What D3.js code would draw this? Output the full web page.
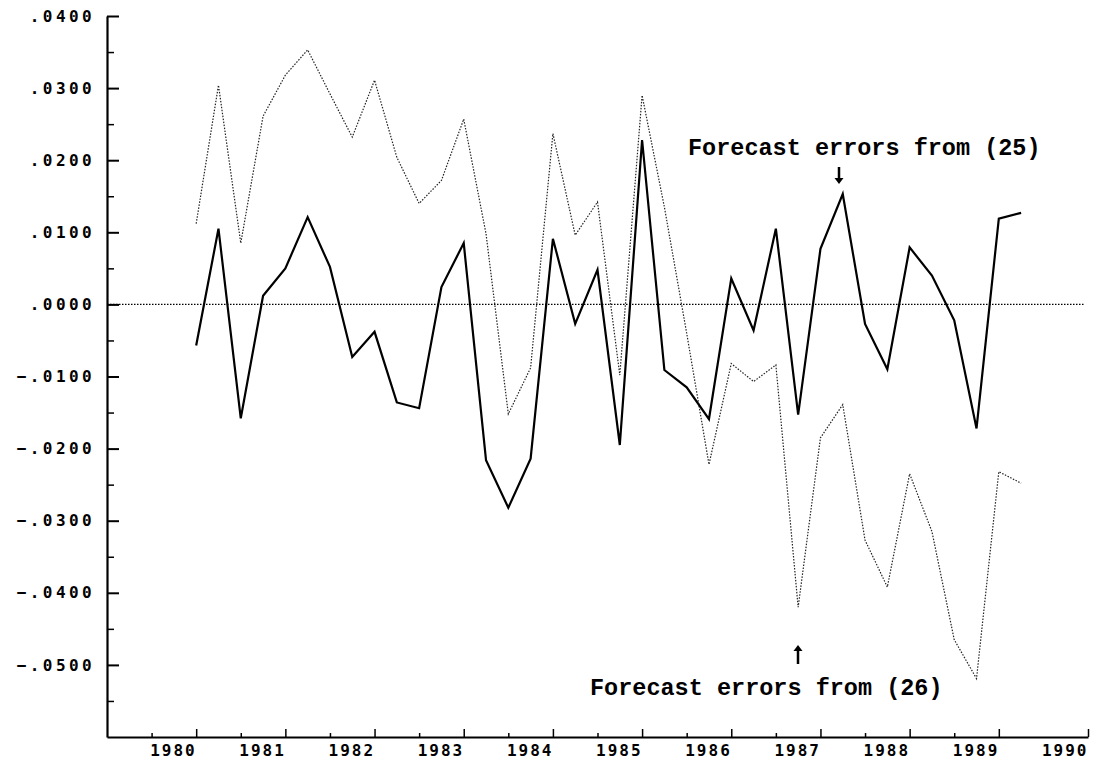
<!DOCTYPE html>
<html>
<head>
<meta charset="utf-8">
<script src="https://cdn.jsdelivr.net/npm/d3@7"></script>
<style>
  body { margin: 0; background: #fff; }
  svg { display: block; }
  .axis text { font-family: "DejaVu Sans Mono", monospace; font-weight: bold; font-size: 16px; fill: #000; }
  .note { font-family: "Liberation Mono", "Courier New", monospace; font-weight: bold; font-size: 23.5px; fill: #000; }
</style>
</head>
<body>
<svg id="svg" width="1097" height="765"></svg>
<script>
/* globals d3 */

// quarterly observations, 1980:1 - 1989:2
var quarters = [
  '1980Q1','1980Q2','1980Q3','1980Q4','1981Q1','1981Q2','1981Q3','1981Q4',
  '1982Q1','1982Q2','1982Q3','1982Q4','1983Q1','1983Q2','1983Q3','1983Q4',
  '1984Q1','1984Q2','1984Q3','1984Q4','1985Q1','1985Q2','1985Q3','1985Q4',
  '1986Q1','1986Q2','1986Q3','1986Q4','1987Q1','1987Q2','1987Q3','1987Q4',
  '1988Q1','1988Q2','1988Q3','1988Q4','1989Q1','1989Q2'
];

// forecast errors from (25) - solid line
var errors25 = [
  -0.0057, 0.0105, -0.0158, 0.0012, 0.0050, 0.0121, 0.0052, -0.0073,
  -0.0038, -0.0136, -0.0144, 0.0024, 0.0085, -0.0216, -0.0282, -0.0214,
  0.0091, -0.0027, 0.0048, -0.0195, 0.0228, -0.0091, -0.0115, -0.0159,
  0.0036, -0.0036, 0.0105, -0.0153, 0.0077, 0.0153, -0.0027, -0.0090,
  0.0079, 0.0040, -0.0022, -0.0172, 0.0119, 0.0127
];

// forecast errors from (26) - dotted line
var errors26 = [
  0.0112, 0.0304, 0.0085, 0.0261, 0.0318, 0.0353, 0.0292, 0.0232,
  0.0311, 0.0204, 0.0140, 0.0172, 0.0257, 0.0098, -0.0152, -0.0088,
  0.0237, 0.0096, 0.0142, -0.0098, 0.0290, 0.0135, -0.0040, -0.0222,
  -0.0082, -0.0107, -0.0084, -0.0420, -0.0185, -0.0139, -0.0327, -0.0392,
  -0.0235, -0.0315, -0.0465, -0.0519, -0.0232, -0.0248
];

var yearTicks = [1980, 1981, 1982, 1983, 1984, 1985, 1986, 1987, 1988, 1989, 1990];
var yMajor = [0.04, 0.03, 0.02, 0.01, 0, -0.01, -0.02, -0.03, -0.04, -0.05];
var yMinor = [0.035, 0.025, 0.015, 0.005, -0.005, -0.015, -0.025, -0.035, -0.045, -0.055];

var svg = d3.select('svg');

var x = d3.scaleLinear().domain([1979, 1990]).range([107, 1088]);
var y = d3.scaleLinear().domain([-0.06, 0.04]).range([737, 16]);

function qTime(q) {
  return +q.slice(0, 4) + (+q.slice(5) - 1) / 4;
}

function fmt(v) {
  return d3.format('.4f')(v).replace('0.', '.');
}

/* Y AXIS */
var yAxis = svg.append('g')
  .attr('class', 'axis')
  .attr('transform', 'translate(' + x(1979) + ',0)')
  .call(d3.axisLeft(y).tickValues(yMajor).tickFormat(fmt).tickSize(-12).tickSizeOuter(0).tickPadding(12));
yAxis.select('.domain').attr('stroke-width', 2.2);
yAxis.selectAll('.tick line').attr('stroke-width', 2);
yAxis.selectAll('text').style('letter-spacing', '3.4px');

svg.append('g')
  .attr('transform', 'translate(' + x(1979) + ',0)')
  .call(d3.axisLeft(y).tickValues(yMinor).tickFormat('').tickSize(-7))
  .call(function(g) { g.select('.domain').remove(); })
  .selectAll('.tick line').attr('stroke-width', 1.5);

/* X AXIS */
var xAxis = svg.append('g')
  .attr('class', 'axis')
  .attr('transform', 'translate(0,' + y(-0.06) + ')')
  .call(d3.axisBottom(x).tickValues(yearTicks).tickFormat(d3.format('d')).tickSize(-8).tickSizeOuter(0).tickPadding(8));
xAxis.select('.domain').attr('stroke-width', 2.2);
xAxis.selectAll('.tick line').attr('stroke-width', 1.5);
xAxis.selectAll('text')
  .attr('text-anchor', 'end')
  .attr('x', 0)
  .style('letter-spacing', '2px');

svg.append('g')
  .attr('transform', 'translate(0,' + y(-0.06) + ')')
  .call(d3.axisBottom(x).tickValues(yearTicks.slice(0, -1).map(function(d) { return d - 0.5; })).tickFormat('').tickSize(-4))
  .call(function(g) { g.select('.domain').remove(); })
  .selectAll('.tick line').attr('stroke-width', 1.5);

/* ZERO LINE */
svg.append('line')
  .attr('x1', x(1979)).attr('x2', x(1990) - 3)
  .attr('y1', y(0)).attr('y2', y(0))
  .attr('stroke', '#000')
  .attr('stroke-width', 1.2)
  .attr('stroke-dasharray', '1.5,1.5');

/* SERIES */
var line = d3.line()
  .x(function(d) { return x(d.t); })
  .y(function(d) { return y(d.v); });

function series(values) {
  return values.map(function(v, i) { return { t: qTime(quarters[i]), v: v }; });
}

svg.append('path')
  .datum(series(errors26))
  .attr('d', line)
  .attr('fill', 'none')
  .attr('stroke', '#222')
  .attr('stroke-width', 1.2)
  .attr('stroke-dasharray', '1.5,1.5');

svg.append('path')
  .datum(series(errors25))
  .attr('d', line)
  .attr('fill', 'none')
  .attr('stroke', '#000')
  .attr('stroke-width', 2.2)
  .attr('stroke-linejoin', 'miter');

/* ANNOTATIONS */
svg.append('text').attr('class', 'note')
  .attr('x', 688).attr('y', 155)
  .text('Forecast errors from (25)');

svg.append('text').attr('class', 'note')
  .attr('x', 590).attr('y', 695)
  .text('Forecast errors from (26)');

function arrow(ax, yTail, yTip) {
  var dir = yTip > yTail ? 1 : -1;
  svg.append('line')
    .attr('x1', ax).attr('x2', ax)
    .attr('y1', yTail).attr('y2', yTip - dir * 5)
    .attr('stroke', '#000').attr('stroke-width', 2.5);
  svg.append('path')
    .attr('d', 'M' + (ax - 4.5) + ',' + (yTip - dir * 6) + 'L' + (ax + 4.5) + ',' + (yTip - dir * 6) + 'L' + ax + ',' + yTip + 'Z')
    .attr('fill', '#000');
}

arrow(839, 167, 184);
arrow(798, 664, 645);
</script>
</body>
</html>
